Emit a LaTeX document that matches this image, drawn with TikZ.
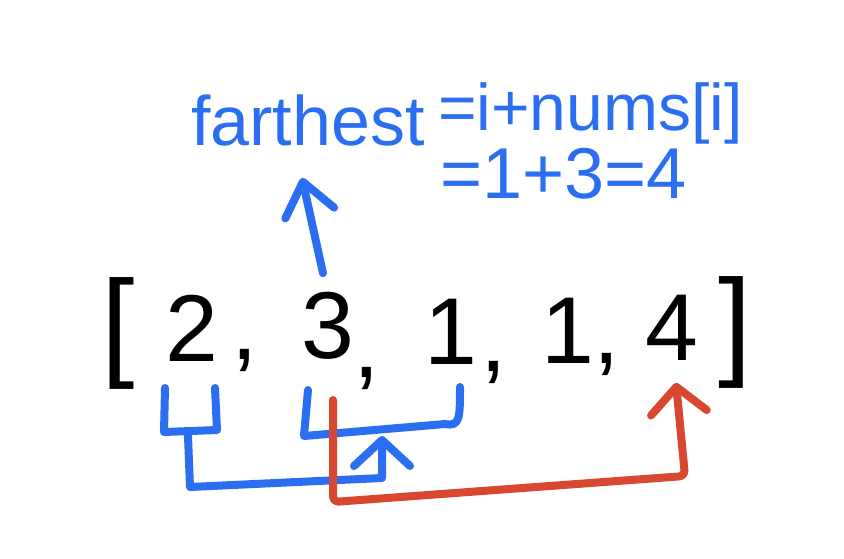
\documentclass[tikz,border=0pt]{standalone}
\usepackage{fontspec}
\setmainfont{Liberation Sans}
\usetikzlibrary{arrows.meta}
\definecolor{inkblue}{RGB}{43,110,242}
\definecolor{inkred}{RGB}{216,71,48}
\begin{document}
\begin{tikzpicture}[x=1pt,y=-1pt,
  digit/.style={inner sep=0pt,font=\fontsize{95}{95}\selectfont},
  brk/.style={inner sep=0pt,font=\fontsize{120}{120}\selectfont},
  note/.style={inner sep=0pt,text=inkblue,font=\fontsize{#1}{#1}\selectfont},
  pen/.style={line width=8pt,line cap=round,line join=round},
  bluepen/.style={pen,draw=inkblue},
  redpen/.style={pen,draw=inkred,rounded corners=6pt},
  >={Straight Barb[round,length=26pt,width=56pt]}]
\useasboundingbox (0,0) rectangle (844,558);
\node[brk] (lbr) at (118,333) {[};
\node[digit] (e0) at (192,328) {2};
\node[digit] (c0) at (245,360) {,};
\node[digit] (e1) at (328,326) {3};
\node[digit] (c1) at (367,378) {,};
\node[digit] (e2) at (451,332) {1};
\node[digit] (c2) at (494,372) {,};
\node[digit] (e3) at (568,331) {1};
\node[digit] (c3) at (607,364) {,};
\node[digit] (e4) at (672,328) {4};
\node[brk] (rbr) at (735,332) {]};
\node[note=70,anchor=base] (fname) at (308,145) {farthest};
\node[note=66,anchor=base west] (frhs) at (438,130) {=i+nums[i]};
\node[note=72,anchor=base west] (fval) at (440,198) {=1+3=4};
\draw[bluepen] (165,388) -- (164,432) -- (217,430) -- (215,388);
\draw[bluepen] (308,390) -- (304,436) -- (445,424) .. controls (460,427) and (460,418) .. (460,387);
\coordinate (gA) at (188,436);
\coordinate (gB) at (382,436);
\coordinate (rA) at (333,400);
\draw[bluepen,->] (gA) -- (190,487) -- (382,478) -- (gB);
\draw[redpen,->] (rA) -- (333,502) -- (685,476) -- ([xshift=4pt,yshift=-22pt]e4.south);
\draw[bluepen,->,>={Straight Barb[round,length=32pt,width=50pt]}] ([xshift=-5pt,yshift=19pt]e1.north) -- ([xshift=-6pt,yshift=-32pt]fname.south);
\end{tikzpicture}
\end{document}
